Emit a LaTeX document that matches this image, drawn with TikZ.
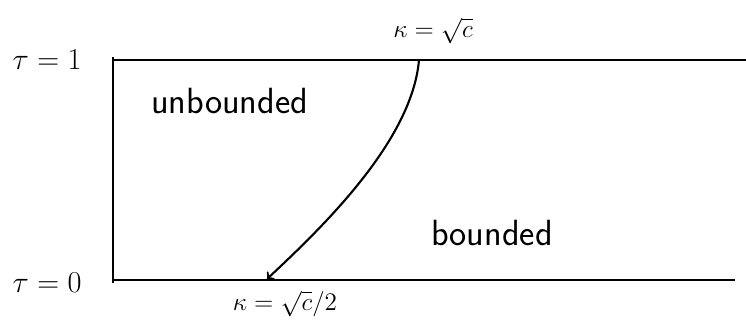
\documentclass[tikz,border=0pt]{standalone}
\begin{document}
\begin{tikzpicture}[x=0.02cm,y=-0.02cm]
\useasboundingbox (0,0) rectangle (746,321);
\draw[very thick] (113,57) -- (113,283);
\draw[very thick] (113,60) -- (746,60);
\draw[very thick] (113,280) -- (735,280);
\coordinate (ktop) at (419,60);
\coordinate (kbot) at (267,279);
\draw[->, very thick] (ktop) .. controls (412,140) and (325,225) .. (kbot);
\node (tau1) at (47,60) {\LARGE $\tau=1$};
\node (tau0) at (47,283) {\LARGE $\tau=0$};
\node (kup) at (433,31) {\Large $\kappa=\sqrt{c}$};
\node (klow) at (285,304) {\Large $\kappa=\sqrt{c}/2$};
\node[anchor=base west] (unb) at (145,113) {\huge\sffamily unbounded};
\node[anchor=base west] (bnd) at (425,245) {\huge\sffamily bounded};
\end{tikzpicture}
\end{document}
